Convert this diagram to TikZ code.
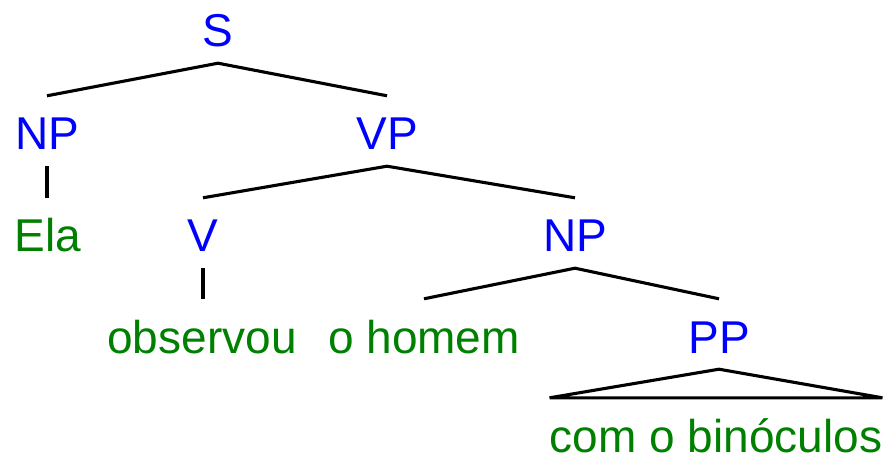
\documentclass[tikz,border=0pt]{standalone}
\usepackage{fontspec}
\setmainfont{Liberation Sans}
\usepackage{tikz}
\usetikzlibrary{calc}

\begin{document}
\begin{tikzpicture}[x=1pt, y=1pt,
    cat/.style={text=blue, anchor=base, inner sep=0pt, text height=54pt, text depth=16pt,
      font=\fontsize{46pt}{50pt}\selectfont},
    word/.style={text={rgb,255:red,0;green,128;blue,0}, anchor=base, inner sep=0pt,
      text height=54pt, text depth=0pt, font=\fontsize{46pt}{50pt}\selectfont},
    edge/.style={line width=3.1pt}]
      \useasboundingbox (0,0) rectangle (885,458);
      \node[cat] (s) at (218,411) {S};
      \node[cat] (np) at (47,308) {NP};
      \node[cat] (vp) at (387,308) {VP};
      \node[word] (ela) at (48,206) {Ela};
      \node[cat] (v) at (203,206) {V};
      \node[cat] (np2) at (575,206) {NP};
      \node[word] (obs) at (202,105) {observou};
      \node[word] (hom) at (424,105) {o homem};
      \node[cat] (pp) at (719,105) {PP};
      \node[word] (bin) at (716,6) {com o binóculos};
      \draw[edge] (np.north) -- (s.south) -- (vp.north);
      \draw[edge] (np.south) -- (np.south |- ela.north);
      \draw[edge] (v.north) -- (vp.south) -- (np2.north);
      \draw[edge] (v.south) -- (v.south |- obs.north);
      \draw[edge] (hom.north) -- (np2.south) -- (pp.north);
      \draw[edge] (pp.south) -- (bin.north west) -- (bin.north east) -- cycle;
    \end{tikzpicture}
\end{document}
